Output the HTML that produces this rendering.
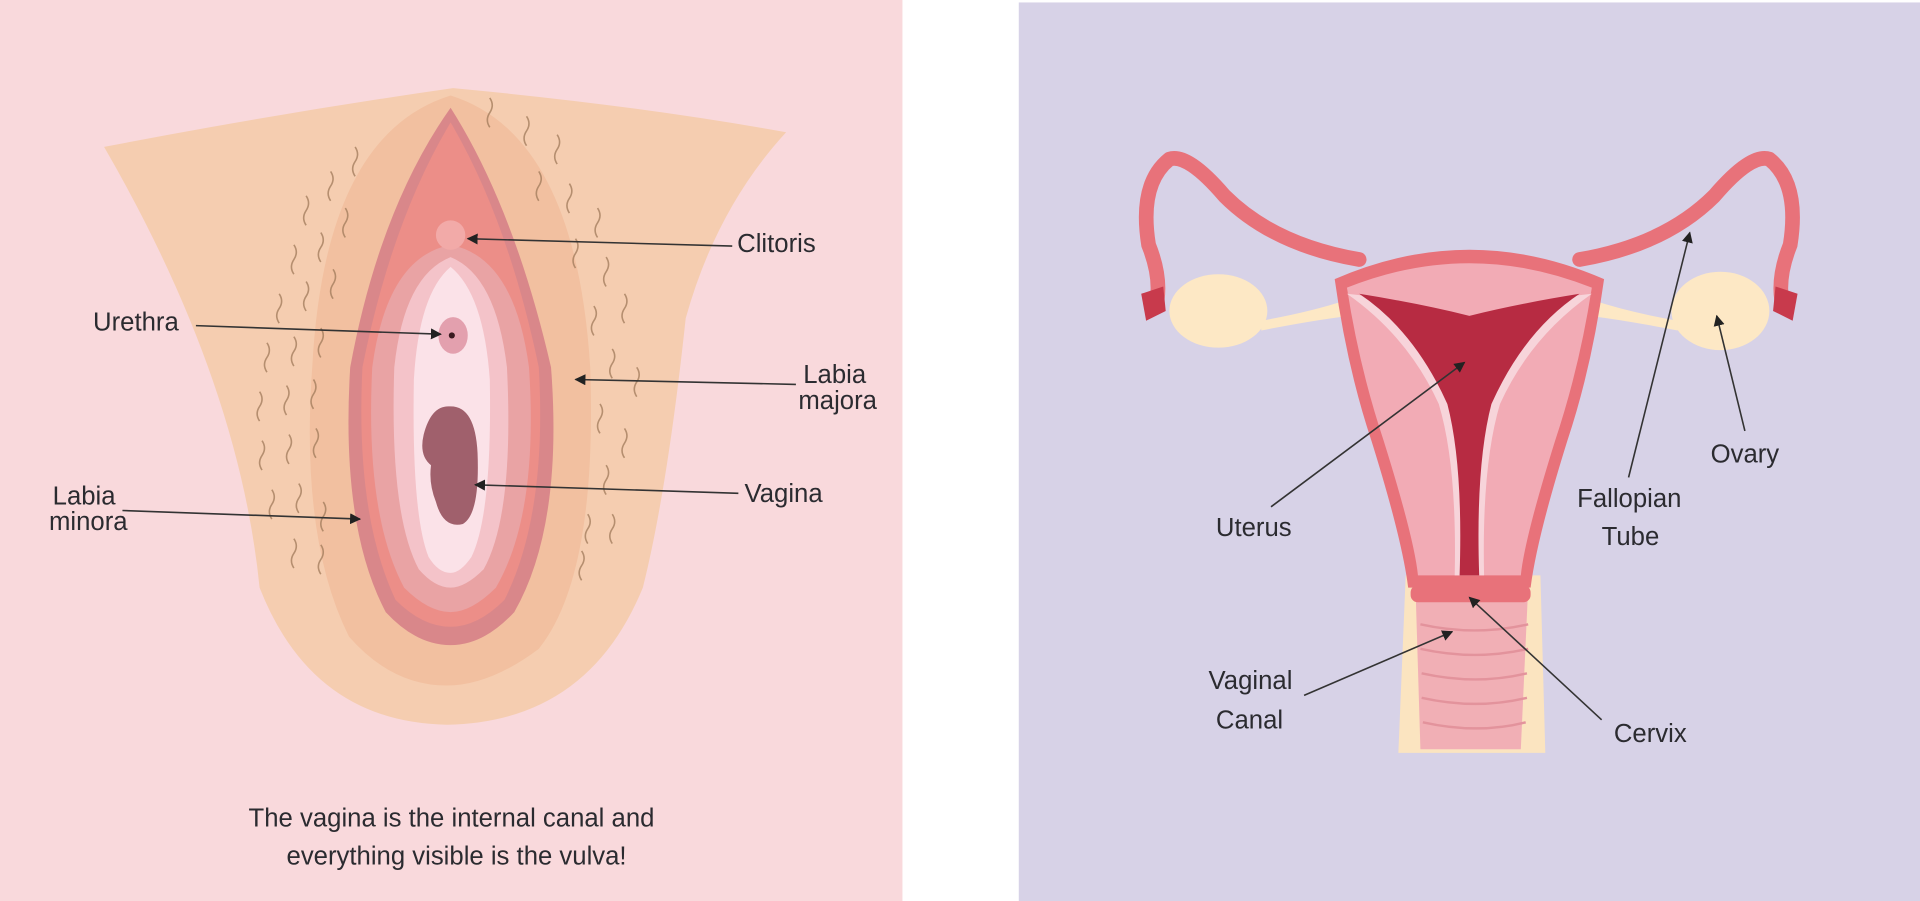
<!DOCTYPE html>
<html><head><meta charset="utf-8"><style>
html,body{margin:0;padding:0;background:#fff;width:1920px;height:901px;overflow:hidden}
svg{display:block}
text{font-family:"Liberation Sans",sans-serif;font-size:21px;fill:#2b2b30}
</style></head><body>
<svg width="1920" height="901" viewBox="0 0 1568 736" preserveAspectRatio="none">
<defs>
<marker id="a" viewBox="0 0 10 10" refX="9" refY="5" markerWidth="9" markerHeight="9" orient="auto" markerUnits="userSpaceOnUse"><path d="M0,0L10,5L0,10z" fill="#222"/></marker>
</defs>
<rect x="0" y="0" width="737" height="736" fill="#f9d9dc"/>
<rect x="832" y="2" width="736" height="734" fill="#d7d2e7"/>

<path d="M85,120 Q230,92 370,72 Q520,86 642,108 Q585,170 560,260 Q545,400 525,480 Q480,590 365,592 Q255,590 212,480 Q195,310 85,120Z" fill="#f5cdb0"/>
<path d="M368,78 Q470,110 482,300 Q488,470 440,530 Q400,560 365,560 Q320,560 285,520 Q245,440 255,300 Q265,110 368,78Z" fill="#f2c0a0"/>
<path d="M368,88 Q420,170 450,300 Q460,430 420,500 Q395,527 368,527 Q340,527 315,500 Q278,430 286,300 Q310,170 368,88Z" fill="#d9878a"/>
<path d="M368,100 Q415,180 440,300 Q447,420 412,490 Q390,512 368,512 Q345,512 323,490 Q290,420 296,300 Q320,180 368,100Z" fill="#ec8e88"/>
<path d="M368,200 Q420,210 432,300 Q440,420 405,480 Q385,500 368,500 Q350,500 330,480 Q298,420 304,300 Q316,210 368,200Z" fill="#e9a3a4"/>
<path d="M368,210 Q405,225 414,300 Q420,420 395,465 Q380,480 368,480 Q355,480 342,465 Q318,420 322,300 Q330,225 368,210Z" fill="#f4c3c9"/>
<path d="M368,218 Q395,240 400,310 Q402,420 385,455 Q376,468 368,468 Q358,468 350,455 Q336,420 338,310 Q342,240 368,218Z" fill="#fbe2e8"/>
<path d="M366,332 Q388,330 390,370 Q392,420 378,428 Q362,432 356,410 Q350,395 352,380 Q342,372 346,355 Q352,332 366,332Z" fill="#a0606c"/>
<circle cx="368" cy="192" r="12" fill="#f2aaa8"/>
<ellipse cx="370" cy="274" rx="12" ry="15" fill="#e3a0ae"/>
<circle cx="369" cy="274" r="2.5" fill="#3a1a20"/>
<g fill="none" stroke="#a07a5a" stroke-width="1.3" opacity="0.75">
<path d="M250,160 q4,6 0,12 q-4,6 0,12"/><path d="M270,140 q4,6 0,12 q-4,6 0,12"/><path d="M290,120 q4,6 0,12 q-4,6 0,12"/>
<path d="M240,200 q4,6 0,12 q-4,6 0,12"/><path d="M262,190 q4,6 0,12 q-4,6 0,12"/><path d="M282,170 q4,6 0,12 q-4,6 0,12"/>
<path d="M228,240 q4,6 0,12 q-4,6 0,12"/><path d="M250,230 q4,6 0,12 q-4,6 0,12"/><path d="M272,220 q4,6 0,12 q-4,6 0,12"/>
<path d="M218,280 q4,6 0,12 q-4,6 0,12"/><path d="M240,275 q4,6 0,12 q-4,6 0,12"/><path d="M262,268 q4,6 0,12 q-4,6 0,12"/>
<path d="M212,320 q4,6 0,12 q-4,6 0,12"/><path d="M234,315 q4,6 0,12 q-4,6 0,12"/><path d="M256,310 q4,6 0,12 q-4,6 0,12"/>
<path d="M214,360 q4,6 0,12 q-4,6 0,12"/><path d="M236,355 q4,6 0,12 q-4,6 0,12"/><path d="M258,350 q4,6 0,12 q-4,6 0,12"/>
<path d="M222,400 q4,6 0,12 q-4,6 0,12"/><path d="M244,395 q4,6 0,12 q-4,6 0,12"/><path d="M264,410 q4,6 0,12 q-4,6 0,12"/>
<path d="M240,440 q4,6 0,12 q-4,6 0,12"/><path d="M262,445 q4,6 0,12 q-4,6 0,12"/>
<path d="M400,80 q4,6 0,12 q-4,6 0,12"/><path d="M430,95 q4,6 0,12 q-4,6 0,12"/><path d="M455,110 q4,6 0,12 q-4,6 0,12"/>
<path d="M440,140 q4,6 0,12 q-4,6 0,12"/><path d="M465,150 q4,6 0,12 q-4,6 0,12"/><path d="M488,170 q4,6 0,12 q-4,6 0,12"/>
<path d="M470,195 q4,6 0,12 q-4,6 0,12"/><path d="M495,210 q4,6 0,12 q-4,6 0,12"/><path d="M510,240 q4,6 0,12 q-4,6 0,12"/>
<path d="M485,250 q4,6 0,12 q-4,6 0,12"/><path d="M500,285 q4,6 0,12 q-4,6 0,12"/><path d="M520,300 q4,6 0,12 q-4,6 0,12"/>
<path d="M490,330 q4,6 0,12 q-4,6 0,12"/><path d="M510,350 q4,6 0,12 q-4,6 0,12"/><path d="M495,380 q4,6 0,12 q-4,6 0,12"/>
<path d="M480,420 q4,6 0,12 q-4,6 0,12"/><path d="M500,420 q4,6 0,12 q-4,6 0,12"/><path d="M475,450 q4,6 0,12 q-4,6 0,12"/>
</g>
<g stroke="#333" stroke-width="1.3" fill="none">
<line x1="598" y1="201" x2="382" y2="195" marker-end="url(#a)"/>
<line x1="160" y1="266" x2="360" y2="273" marker-end="url(#a)"/>
<line x1="650" y1="314" x2="470" y2="310" marker-end="url(#a)"/>
<line x1="603" y1="403" x2="388" y2="396" marker-end="url(#a)"/>
<line x1="100" y1="417" x2="294" y2="424" marker-end="url(#a)"/>
</g>
<text x="602" y="206">Clitoris</text>
<text x="76" y="270">Urethra</text>
<text x="656" y="313">Labia</text>
<text x="652" y="334">majora</text>
<text x="608" y="410">Vagina</text>
<text x="43" y="412">Labia</text>
<text x="40" y="433">minora</text>
<text x="203" y="675">The vagina is the internal canal and</text>
<text x="234" y="706">everything visible is the vulva!</text>

<ellipse cx="995" cy="254" rx="40" ry="30" fill="#fde8c5"/>
<ellipse cx="1405" cy="254" rx="40" ry="32" fill="#fde8c5"/>
<path d="M1030,262 Q1070,255 1100,245 L1102,258 Q1070,262 1030,270Z" fill="#fde8c5"/>
<path d="M1370,262 Q1330,255 1300,245 L1298,258 Q1330,262 1370,270Z" fill="#fde8c5"/>
<path d="M1110,212 Q1040,200 1000,160 Q970,125 955,130 Q930,150 938,200 Q948,225 945,245" fill="none" stroke="#e8727a" stroke-width="12" stroke-linecap="round"/>
<path d="M1290,212 Q1360,200 1400,160 Q1430,125 1445,130 Q1470,150 1462,200 Q1452,225 1455,245" fill="none" stroke="#e8727a" stroke-width="12" stroke-linecap="round"/>
<path d="M932,240 l18,-6 l2,20 l-16,8z" fill="#c83a4c"/>
<path d="M1468,240 l-18,-6 l-2,20 l16,8z" fill="#c83a4c"/>
<path d="M1148,470 L1142,615 L1262,615 L1258,470Z" fill="#fbe4c0"/>
<path d="M1156,480 L1160,612 L1242,612 L1248,480Z" fill="#f1afb5"/>
<g stroke="#e3939c" stroke-width="2" fill="none">
<path d="M1160,510 q45,10 88,0"/><path d="M1160,530 q45,10 88,0"/><path d="M1161,550 q45,10 86,0"/><path d="M1161,570 q45,10 86,0"/><path d="M1162,590 q45,10 84,0"/>
</g>
<path d="M1090,228 Q1200,180 1310,228 Q1300,300 1280,360 Q1255,440 1250,480 L1150,480 Q1145,440 1120,360 Q1100,300 1090,228Z" fill="#e8727a"/>
<path d="M1100,235 Q1200,195 1300,235 Q1290,300 1270,360 Q1245,440 1242,470 L1158,470 Q1155,440 1130,360 Q1110,300 1100,235Z" fill="#f2abb5"/>
<path d="M1100,240 Q1150,245 1200,262 Q1250,245 1300,240 Q1250,275 1225,330 Q1210,380 1212,470 L1188,470 Q1190,380 1175,330 Q1150,275 1100,240Z" fill="#f7d4da"/>
<path d="M1110,240 Q1160,248 1200,258 Q1240,248 1290,240 Q1245,270 1218,330 Q1205,380 1208,470 L1192,470 Q1195,380 1182,330 Q1155,270 1110,240Z" fill="#b72b42"/>
<rect x="1152" y="478" width="98" height="14" rx="6" fill="#e8727a"/>
<g stroke="#333" stroke-width="1.3" fill="none">
<line x1="1038" y1="414" x2="1196" y2="296" marker-end="url(#a)"/>
<line x1="1330" y1="390" x2="1380" y2="190" marker-end="url(#a)"/>
<line x1="1425" y1="352" x2="1402" y2="258" marker-end="url(#a)"/>
<line x1="1065" y1="568" x2="1186" y2="516" marker-end="url(#a)"/>
<line x1="1308" y1="588" x2="1200" y2="488" marker-end="url(#a)"/>
</g>
<text x="993" y="438">Uterus</text>
<text x="1288" y="414">Fallopian</text>
<text x="1308" y="445">Tube</text>
<text x="1397" y="378">Ovary</text>
<text x="987" y="563">Vaginal</text>
<text x="993" y="595">Canal</text>
<text x="1318" y="606">Cervix</text>
</svg>
</body></html>
